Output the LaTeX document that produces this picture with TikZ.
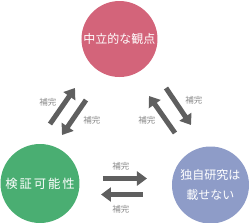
\documentclass[tikz,border=0pt]{standalone}
\usepackage{fontspec}
\newfontfamily\jp{Noto Sans CJK JP}
\newfontfamily\jpwide[LetterSpace=16]{Noto Sans CJK JP}
\usetikzlibrary{arrows.meta}
\definecolor{cpink}{HTML}{D3647A}
\definecolor{cgreen}{HTML}{4AAE72}
\definecolor{cblue}{HTML}{8E9CC8}
\definecolor{carrow}{HTML}{5F5F5F}
\definecolor{clabel}{HTML}{8A8A8A}
\begin{document}
\begin{tikzpicture}[x=1pt,y=-1pt,
  circ/.style={circle,inner sep=0pt,text=white,font=\jp\fontsize{12}{20}\selectfont,align=center},
  bigarrow/.style={draw=carrow,line width=5pt,-{Triangle[length=10pt,width=14pt]},carrow},
  lbl/.style={text=clabel,font=\jp\fontsize{8.5}{10}\selectfont,inner sep=0pt}]
\useasboundingbox (0,0) rectangle (250,223);
\node[circ,fill=cpink,minimum size=76pt] (top) at (119.5,39) {中立的な観点};
\node[circ,fill=cgreen,minimum size=79pt,font=\jpwide\fontsize{12.3}{20}\selectfont] (left) at (40,183.5) {検証可能性};
\node[circ,fill=cblue,minimum size=77pt] (right) at (210.5,185) {独自研究は\\載せない};
% left pair
\coordinate (l1s) at (50,124); \coordinate (l1e) at (75,88);
\coordinate (l2s) at (86,100); \coordinate (l2e) at (62,135);
\draw[bigarrow] (l1s) -- (l1e);
\draw[bigarrow] (l2s) -- (l2e);
\node[lbl] (lt1) at (48,102) {補完};
\node[lbl] (lt2) at (92,120) {補完};
% right pair
\coordinate (r1s) at (166,88); \coordinate (r1e) at (191,125);
\coordinate (r2s) at (175,133); \coordinate (r2e) at (149,96);
\draw[bigarrow] (r1s) -- (r1e);
\draw[bigarrow] (r2s) -- (r2e);
\node[lbl] (rt1) at (194,100) {補完};
\node[lbl] (rt2) at (147,120) {補完};
% bottom pair
\coordinate (b1s) at (103,178.5); \coordinate (b1e) at (147,178.5);
\coordinate (b2s) at (143,194.5); \coordinate (b2e) at (101,194.5);
\draw[bigarrow] (b1s) -- (b1e);
\draw[bigarrow] (b2s) -- (b2e);
\node[lbl] (bt1) at (121,166) {補完};
\node[lbl] (bt2) at (121,209) {補完};
\end{tikzpicture}
\end{document}
